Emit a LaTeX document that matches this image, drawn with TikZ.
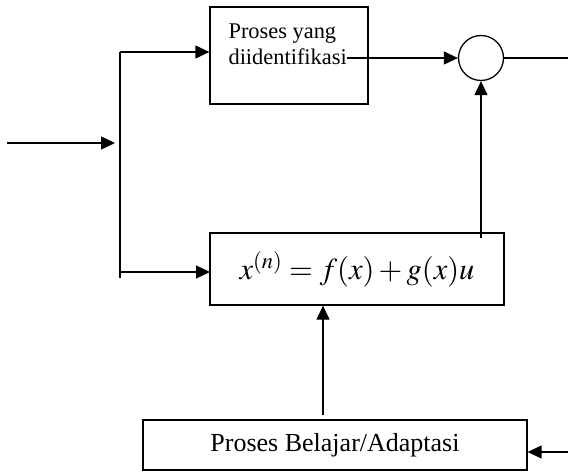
\documentclass[tikz,border=0pt]{standalone}
\usepackage{mathptmx}
\usepackage{fontspec}
\setmainfont{Liberation Serif}
\usetikzlibrary{arrows.meta,calc}

\begin{document}
\begin{tikzpicture}[x=1pt, y=1pt,
    blok/.style={rectangle, draw=black, line width=1.3pt, inner sep=0pt},
    jumlah/.style={circle, draw=black, line width=1.3pt, minimum size=45pt, inner sep=0pt},
    panah/.style={-{Triangle[length=14pt, width=13pt]}, line width=1.3pt},
    garis/.style={line width=1.3pt}
]
\useasboundingbox (0,0) rectangle (568,472);

% Blok proses dan model
\node[blok, minimum width=158pt, minimum height=97pt] (plant) at (289, 416.5) {};
\node[font=\fontsize{22.4}{26}\selectfont, align=left, anchor=north west, inner sep=0pt] (plantlbl) at ($(plant.north west)+(19,-17)$) {Proses yang\\diidentifikasi};
\node[jumlah] (sum) at (481, 414) {};
\node[blok, minimum width=294pt, minimum height=72pt, font=\fontsize{30.5}{34}\selectfont] (model) at (357, 203) {$x^{(n)} = f(x) + g(x)u$};
\node[blok, minimum width=384pt, minimum height=50pt, font=\fontsize{26}{30}\selectfont] (learn) at (335, 27) {Proses Belajar/Adaptasi};

% Titik bantu
\coordinate (input) at (7, 329);
\coordinate (split) at (120, 420);
\coordinate (splitend) at (120, 194);
\coordinate (out) at (568, 414);
\coordinate (adapt) at (323, 57);
\coordinate (err) at (568, 20);

% Sambungan
\draw[panah, shorten >=5pt] (input) -- (input -| split);
\draw[garis] (split) -- (splitend);
\draw[panah] (split) -- (split -| plant.west);
\draw[panah] (splitend |- 0,200) -- (210, 200);
\draw[panah] (plantlbl.east |- sum.west) -- (sum.west);
\draw[garis] (sum.east) -- (out);
\draw[panah] ($(sum.south |- model.north)+(0,-6)$) -- (sum.south);
\draw[panah] (adapt) -- (adapt |- model.south);
\draw[panah] (err) -- (err -| learn.east);

\end{tikzpicture}
\end{document}
